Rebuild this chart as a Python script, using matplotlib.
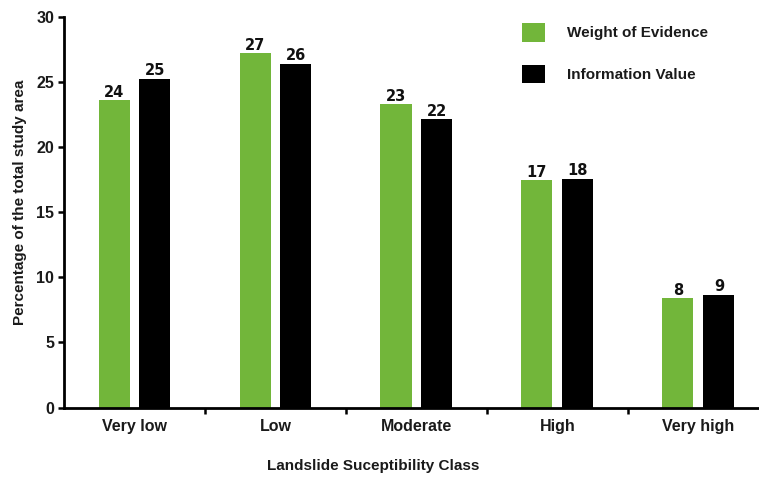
import numpy as np
import matplotlib.pyplot as plt
from matplotlib.ticker import FixedLocator

# susceptibility classes and share of study area (%)
classes = ['Very low', 'Low', 'Moderate', 'High', 'Very high']
woe = [23.6, 27.2, 23.3, 17.45, 8.4]
iv = [25.25, 26.4, 22.15, 17.55, 8.65]

green = '#72b63a'
lab_font = ['Liberation Sans', 'DejaVu Sans']

fig = plt.figure(figsize=(7.59, 4.78), dpi=100)
ax = fig.add_axes([64 / 759, 1 - 407.5 / 478, 1 - 64 / 759, 390.5 / 478])

x = np.arange(len(classes))
w = 0.22
off = 0.145
b1 = ax.bar(x - off, woe, w, color=green, label='Weight of Evidence')
b2 = ax.bar(x + off, iv, w, color='black', label='Information Value')

for bars, vals in ((b1, woe), (b2, iv)):
    for rect, v in zip(bars, vals):
        ax.text(rect.get_x() + rect.get_width() / 2, v + 0.05, f'{v:.0f}',
                ha='center', va='bottom', fontsize=10.5, fontweight='bold',
                family='DejaVu Sans', color='#111111')

ax.set_xlim(-0.5, 4.43)
ax.set_ylim(0, 30)
ax.set_yticks([0, 5, 10, 15, 20, 25, 30])

ax.set_xticks(x)
ax.set_xticklabels(classes)
ax.xaxis.set_minor_locator(FixedLocator([0.5, 1.5, 2.5, 3.5]))
ax.tick_params(axis='x', which='major', length=0, pad=8)
ax.tick_params(axis='x', which='minor', length=4, width=1.8, direction='out')
ax.tick_params(axis='y', length=4, width=1.8, pad=3)
for lbl in ax.get_xticklabels() + ax.get_yticklabels():
    lbl.set_family(lab_font)
    lbl.set_fontweight('bold')
    lbl.set_fontsize(11.5)
    lbl.set_color('#1a1a1a')

for s in ('top', 'right'):
    ax.spines[s].set_visible(False)
for s in ('left', 'bottom'):
    ax.spines[s].set_linewidth(2)

ax.set_ylabel('Percentage of the total study area', family=lab_font,
              fontweight='bold', fontsize=11, color='#1a1a1a')
ax.yaxis.set_label_coords(-0.053, 0.526)
ax.set_xlabel('Landslide Suceptibility Class', family=lab_font,
              fontweight='bold', fontsize=11, color='#1a1a1a')
ax.xaxis.set_label_coords(0.445, -0.132)

leg = ax.legend(loc='upper left', bbox_to_anchor=(522 / 759, 1 - 23 / 478),
                bbox_transform=fig.transFigure, frameon=False, borderpad=0,
                borderaxespad=0, handlelength=1.5, handleheight=1.5,
                labelspacing=1.5, handletextpad=1.45,
                prop={'family': lab_font, 'weight': 'bold', 'size': 11})
for t in leg.get_texts():
    t.set_color('#1a1a1a')

fig.savefig('out.png', dpi=100)
